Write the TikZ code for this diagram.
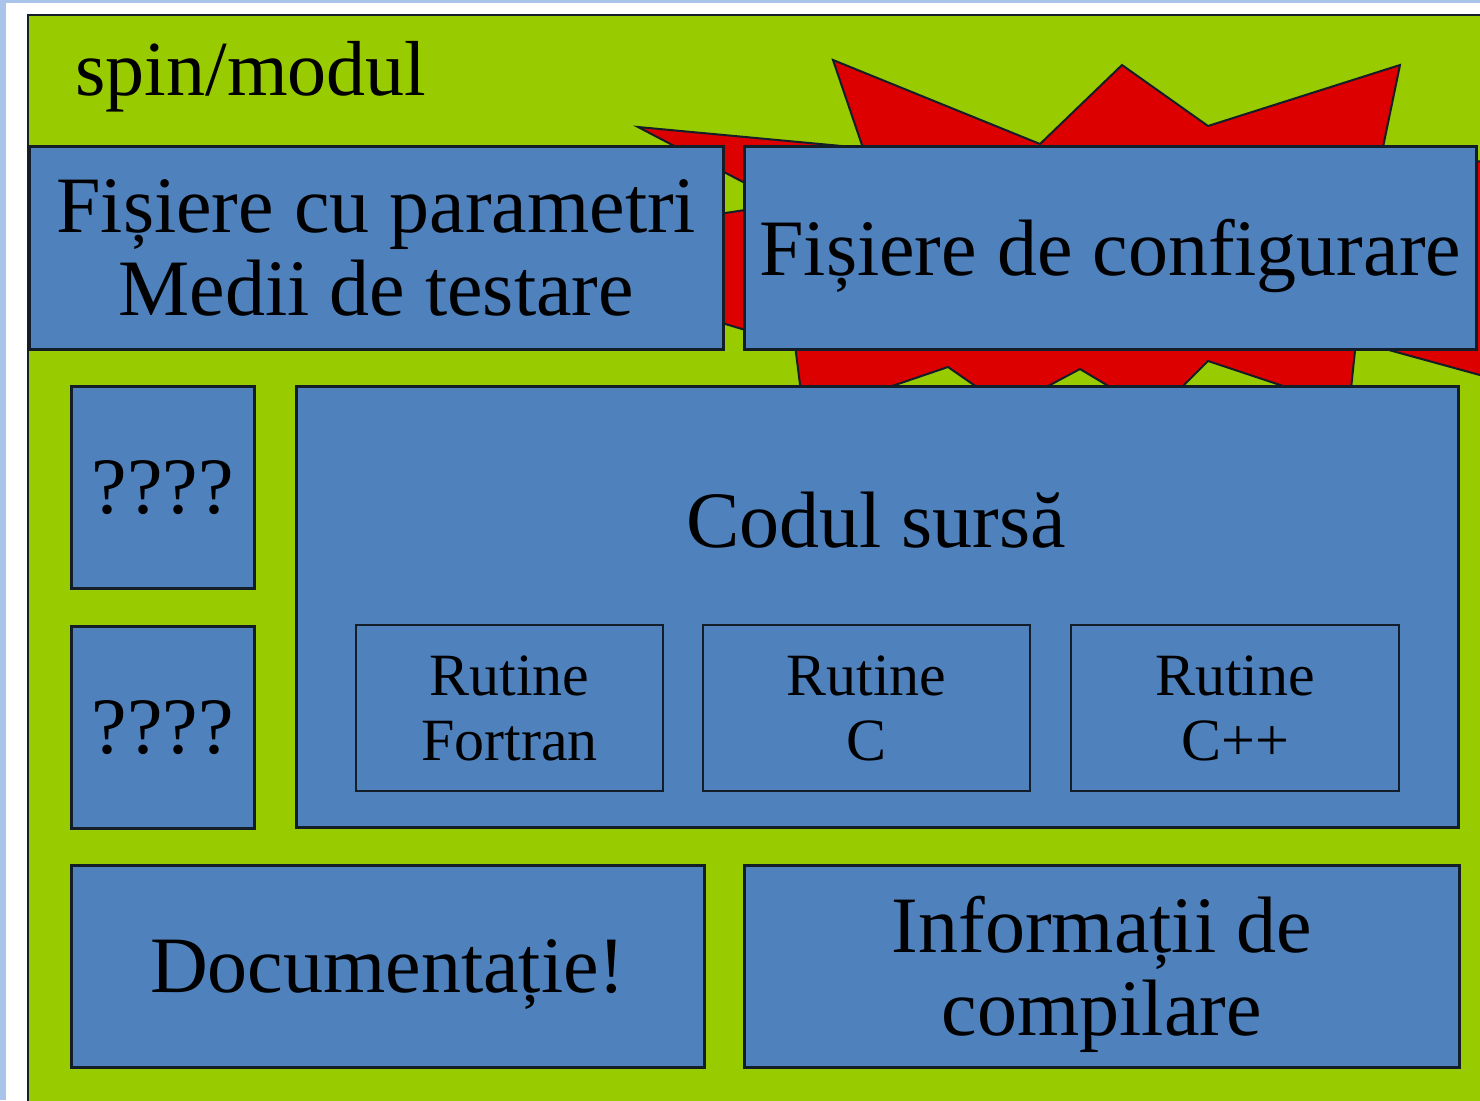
\documentclass[tikz,border=0pt]{standalone}
\usepackage{fontspec}
\setmainfont{Liberation Serif}
\definecolor{pgreen}{RGB}{153,204,0}
\definecolor{pblue}{RGB}{79,129,189}
\definecolor{pred}{RGB}{220,0,0}
\definecolor{edgec}{RGB}{20,30,40}
\definecolor{frameblue}{RGB}{170,195,235}
\begin{document}
\begin{tikzpicture}[x=1pt,y=-1pt,
  box/.style={draw=edgec, line width=2.5pt, fill=pblue, inner sep=0pt, anchor=north west, align=center, text=black},
  big/.style={font=\fontsize{80}{83}\selectfont},
  small/.style={font=\fontsize{60}{65}\selectfont}]
\useasboundingbox (0,0) rectangle (1480,1100);
\clip (0,0) rectangle (1480,1100);
% frame
\fill[frameblue] (0,0) rectangle (1480,1100);
\fill[white] (6,3) rectangle (1490,1110);
\draw[edgec, line width=2.5pt, fill=pgreen] (28,15) rectangle (1500,1120);
% explosion
\draw[edgec, line width=2pt, fill=pred, line join=miter]
  (638,127) -- (863,148) -- (833,60) -- (1040,144) -- (1122,65) -- (1208,126)
  -- (1400,65) -- (1382,152) -- (1620,175) -- (1560,300) -- (1600,408)
  -- (1356,341) -- (1349,408) -- (1208,361) -- (1155,414) -- (1080,369)
  -- (1007,408) -- (948,367) -- (804,416) -- (795,345) -- (480,250)
  -- (785,204) -- cycle;
% title
\node[font=\fontsize{78}{80}\selectfont, anchor=base west] (title) at (72,95) {spin/modul};
% boxes
\node[box,big, minimum width=694, minimum height=203] (par) at (28,145) {Fișiere cu parametri\\Medii de testare};
\node[box,big, text depth=0pt, minimum width=732, minimum height=203] (cfg) at (743,145) {Fișiere de configurare};
\node[box,big, minimum width=183, minimum height=202] (q1) at (70,385) {????};
\node[box,big, minimum width=183, minimum height=202] (q2) at (70,625) {????};
\node[box, minimum width=1162, minimum height=441] (cod) at (295,385) {};
\node[big, anchor=base] (codt) at (876,547) {Codul sursă};
\node[box,small, line width=2pt, minimum width=307, minimum height=166] (fort) at (355,624) {Rutine\\Fortran};
\node[box,small, line width=2pt, minimum width=327, minimum height=166] (rc) at (702,624) {Rutine\\C};
\node[box,small, line width=2pt, minimum width=328, minimum height=166] (rcpp) at (1070,624) {Rutine\\C++};
\node[box,big, text depth=0pt, minimum width=633, minimum height=202] (doc) at (70,864) {Documentație!};
\node[box,big, text depth=0pt, minimum width=715, minimum height=202] (info) at (743,864) {Informații de\\compilare};
\end{tikzpicture}
\end{document}
